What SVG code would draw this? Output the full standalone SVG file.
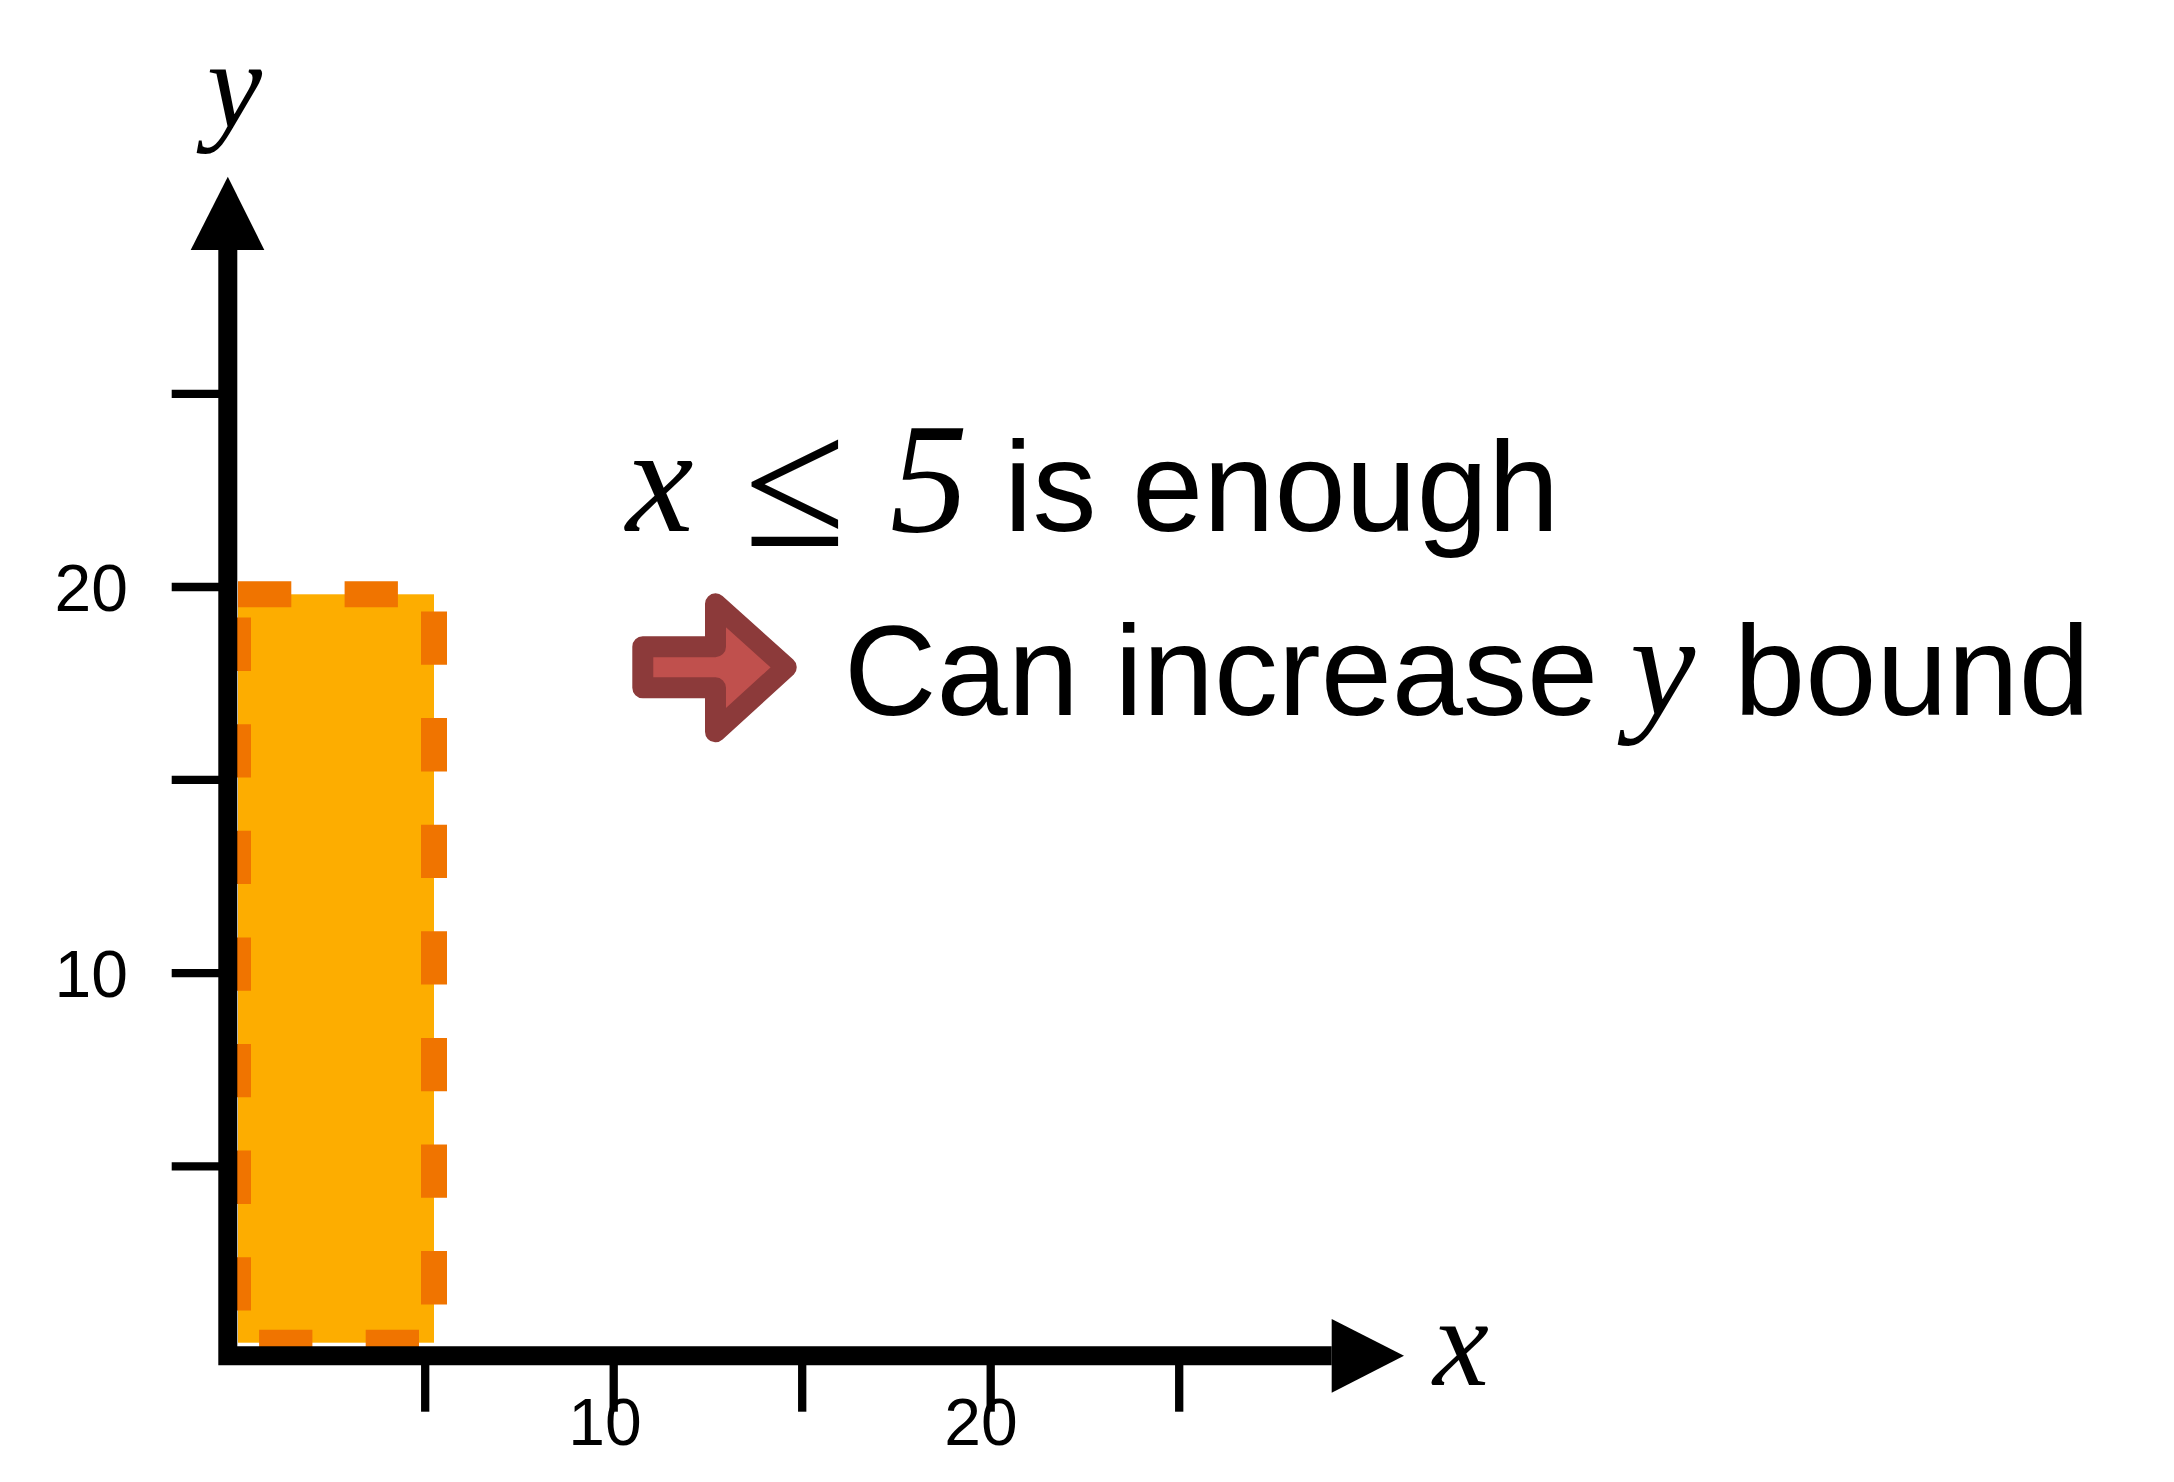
<svg xmlns="http://www.w3.org/2000/svg" width="2174" height="1482" viewBox="0 0 2174 1482">
<style>
.sans{font-family:"Liberation Sans",Arial,sans-serif;fill:#000}
.math{font-family:"Liberation Serif","Times New Roman",serif;font-style:italic;fill:#000}
.mathr{font-family:"Liberation Serif","Times New Roman",serif;fill:#000}
.tick{stroke:#000;stroke-width:8.3;fill:none}
.big{font-size:128px}
.tl{font-size:66px}
</style>
<rect width="2174" height="1482" fill="#fff"/>
<g id="region">
<rect x="238" y="594.3" width="196" height="748.4" fill="#FDAD00" stroke="#F07400" stroke-width="26" stroke-dasharray="53.3 53.3"/>
</g>
<g id="axes">
<polyline points="227.8,250 227.8,1355.8 1331.7,1355.8" fill="none" stroke="#000" stroke-width="19" stroke-linejoin="miter"/>
<polygon points="227.8,176.7 190.7,250 264.3,250" fill="#000"/>
<polygon points="1404,1355.8 1331.7,1319 1331.7,1392.7" fill="#000"/>
<g id="yticks">
<line class="tick" x1="171.7" y1="393.8" x2="220" y2="393.8"/>
<line class="tick" x1="171.7" y1="587" x2="220" y2="587"/>
<line class="tick" x1="171.7" y1="779.8" x2="220" y2="779.8"/>
<line class="tick" x1="171.7" y1="973.2" x2="220" y2="973.2"/>
<line class="tick" x1="171.7" y1="1166.4" x2="220" y2="1166.4"/>
</g>
<g id="xticks">
<line class="tick" x1="425.2" y1="1362" x2="425.2" y2="1411.7"/>
<line class="tick" x1="613.7" y1="1362" x2="613.7" y2="1411.7"/>
<line class="tick" x1="802.2" y1="1362" x2="802.2" y2="1411.7"/>
<line class="tick" x1="990.7" y1="1362" x2="990.7" y2="1411.7"/>
<line class="tick" x1="1179.2" y1="1362" x2="1179.2" y2="1411.7"/>
</g>
<text class="sans tl" x="128" y="611" text-anchor="end">20</text>
<text class="sans tl" x="128" y="996.7" text-anchor="end">10</text>
<text class="sans tl" x="605" y="1445" text-anchor="middle">10</text>
<text class="sans tl" x="981" y="1445" text-anchor="middle">20</text>
<text class="math" x="207" y="126.5" font-size="124">y</text>
<text class="math" x="1433" y="1385" font-size="126">x</text>
</g>
<g id="label1">
<text class="math" x="626" y="531" font-size="152">x</text>
<text class="mathr" x="744" y="546" font-size="186">≤</text>
<text class="math" x="890" y="531" font-size="156">5</text>
<text class="sans big" x="1004" y="530.7">is enough</text>
</g>
<g id="label2">
<path d="M642.8,646.7 H715.5 V603.8 L786.2,667.3 L715.5,731.8 V687.8 H642.8 Z" fill="#C0504D" stroke="#8C3A3A" stroke-width="21" stroke-linejoin="round"/>
<text class="sans big" x="844" y="715">Can increase</text>
<text class="math" x="1630" y="715" font-size="147">y</text>
<text class="sans big" x="1734" y="715">bound</text>
</g>
</svg>
